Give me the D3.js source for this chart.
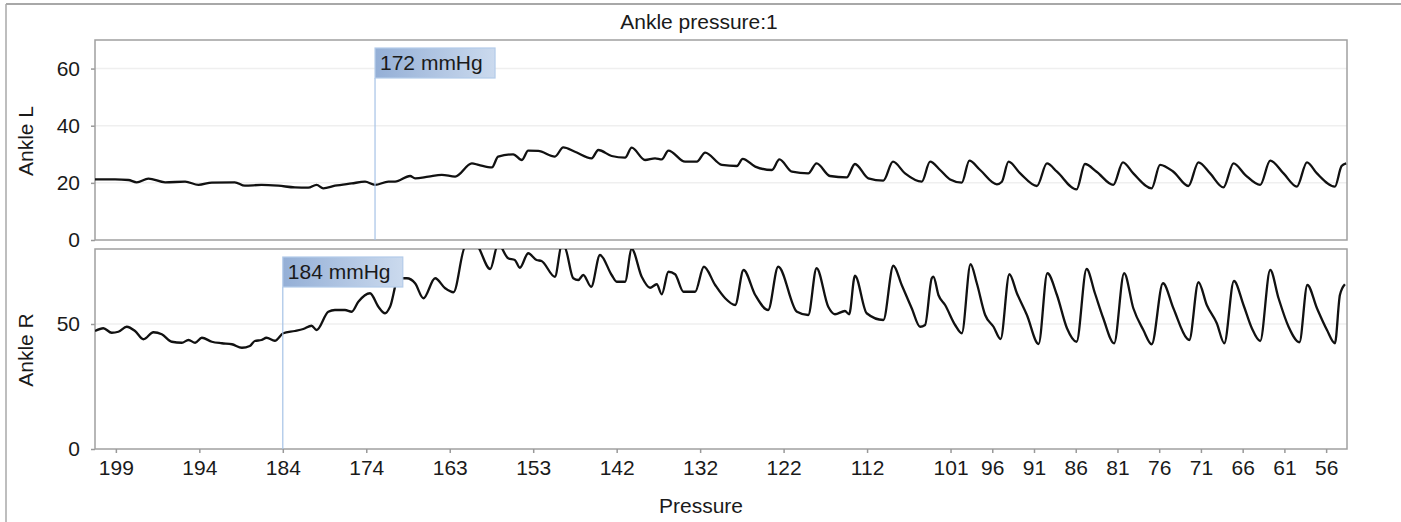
<!DOCTYPE html>
<html>
<head>
<meta charset="utf-8">
<script src="https://cdn.jsdelivr.net/npm/d3@7"></script>
<style>
  html, body { margin: 0; padding: 0; background: #fff; }
  svg { display: block; font-family: "Liberation Sans", Arial, sans-serif; }
</style>
</head>
<body>
<div id="chart"></div>
<script>
// cuff pressure shown under the time ticks (s)
const pressureLabels = [199, 194, 184, 174, 163, 153, 142, 132, 122, 112, 101, 96, 91, 86, 81, 76, 71, 66, 61, 56];
const tickTimes = [0.5, 2.5, 4.5, 6.5, 8.5, 10.5, 12.5, 14.5, 16.5, 18.5, 20.5, 21.5, 22.5, 23.5, 24.5, 25.5, 26.5, 27.5, 28.5, 29.5];
const yTicksL = [0, 20, 40, 60];
const yTicksR = [0, 50];

// [time s, mmHg]
const ankleL = [
  [0.00, 21.2], [0.48, 21.2], [0.80, 21.0], [1.00, 20.2], [1.28, 21.5], [1.68, 20.2], [2.16, 20.4],
  [2.48, 19.3], [2.80, 20.1], [3.35, 20.2], [3.59, 19.0], [3.99, 19.3], [4.39, 19.0], [4.79, 18.4],
  [5.11, 18.3], [5.31, 19.3], [5.47, 18.1], [5.75, 19.0], [6.15, 19.8], [6.47, 20.4], [6.71, 19.3],
  [7.03, 20.4], [7.19, 20.4], [7.55, 22.4], [7.67, 21.6], [7.99, 22.2], [8.31, 22.8], [8.63, 22.2],
  [9.03, 26.8], [9.19, 26.3], [9.51, 25.4], [9.66, 29.2], [10.02, 30.0], [10.23, 28.0], [10.38, 31.3],
  [10.62, 31.2], [11.02, 29.2], [11.22, 32.4], [11.50, 30.9], [11.90, 28.6], [12.06, 31.5], [12.38, 29.4],
  [12.70, 28.8], [12.86, 32.3], [13.18, 28.0], [13.42, 28.6], [13.58, 28.2], [13.74, 31.3], [14.14, 27.4],
  [14.42, 27.4], [14.62, 30.6], [15.02, 26.3], [15.38, 25.9], [15.52, 28.4], [15.82, 25.7], [16.22, 24.5],
  [16.40, 28.2], [16.70, 23.9], [17.09, 23.3], [17.29, 26.8], [17.61, 22.4], [18.01, 21.9], [18.21, 26.6],
  [18.53, 21.6], [18.89, 20.8], [19.12, 27.4], [19.41, 23.3], [19.81, 20.4], [20.01, 27.4], [20.25, 24.5],
  [20.49, 21.2], [20.77, 20.1], [20.95, 27.8], [21.21, 24.5], [21.61, 19.5], [21.73, 20.4], [21.89, 27.4],
  [22.17, 23.3], [22.57, 18.9], [22.81, 26.8], [23.05, 23.9], [23.52, 17.7], [23.72, 26.6], [24.00, 23.9],
  [24.40, 19.3], [24.63, 27.2], [24.88, 23.3], [25.32, 18.1], [25.52, 26.3], [25.84, 23.9], [26.20, 18.9],
  [26.44, 27.2], [26.72, 23.3], [27.04, 18.4], [27.28, 26.8], [27.56, 22.8], [27.92, 19.3], [28.16, 27.8],
  [28.48, 23.3], [28.80, 18.7], [29.04, 27.2], [29.28, 23.3], [29.71, 18.7], [29.87, 25.9], [29.98, 26.8]
];

const ankleR = [
  [0.00, 47.2], [0.20, 48.3], [0.40, 46.5], [0.56, 46.9], [0.76, 48.9], [0.96, 47.2], [1.16, 43.9],
  [1.40, 46.7], [1.60, 45.9], [1.84, 42.9], [2.08, 42.5], [2.24, 43.6], [2.40, 42.5], [2.56, 44.5],
  [2.80, 42.9], [3.04, 42.3], [3.28, 41.9], [3.52, 40.5], [3.71, 41.2], [3.83, 43.2], [3.99, 43.6],
  [4.11, 44.5], [4.31, 43.3], [4.51, 46.3], [4.79, 47.2], [4.99, 48.0], [5.19, 49.3], [5.31, 47.6],
  [5.59, 54.9], [5.75, 55.6], [5.99, 55.6], [6.15, 54.9], [6.31, 58.9], [6.59, 62.3], [6.79, 56.9],
  [6.95, 54.3], [7.07, 56.9], [7.27, 68.3], [7.47, 68.3], [7.67, 66.3], [7.87, 60.3], [8.15, 68.3],
  [8.39, 64.3], [8.59, 62.7], [8.87, 81.0], [9.11, 82.0], [9.47, 72.0], [9.66, 82.0], [9.90, 76.3],
  [10.06, 75.6], [10.18, 72.5], [10.38, 78.3], [10.58, 75.6], [10.70, 75.2], [11.02, 68.9], [11.18, 81.0],
  [11.26, 80.5], [11.46, 68.3], [11.58, 67.6], [11.70, 69.6], [11.89, 64.9], [12.10, 77.6], [12.38, 69.6],
  [12.50, 66.9], [12.70, 66.9], [12.86, 80.0], [13.10, 68.9], [13.30, 64.5], [13.46, 65.9], [13.58, 61.9],
  [13.74, 70.9], [13.90, 69.9], [14.10, 62.9], [14.38, 62.9], [14.59, 72.9], [14.86, 65.6], [15.10, 60.3],
  [15.34, 57.6], [15.54, 71.6], [15.82, 61.6], [16.13, 55.6], [16.37, 72.9], [16.82, 54.9], [17.09, 53.6],
  [17.29, 72.3], [17.57, 56.9], [17.73, 53.9], [17.97, 55.2], [18.07, 53.9], [18.21, 69.3], [18.49, 54.3],
  [18.89, 51.6], [19.13, 73.3], [19.33, 65.6], [19.57, 56.3], [19.77, 48.9], [19.89, 49.6], [20.05, 68.3],
  [20.09, 68.9], [20.21, 61.6], [20.37, 57.6], [20.61, 49.6], [20.77, 46.3], [20.98, 73.9], [21.13, 66.3],
  [21.33, 53.6], [21.53, 48.9], [21.70, 44.0], [21.91, 69.9], [22.09, 62.3], [22.33, 53.6], [22.61, 42.0],
  [22.82, 70.3], [23.05, 61.6], [23.29, 48.3], [23.52, 42.9], [23.76, 72.0], [23.96, 62.3], [24.16, 52.3],
  [24.42, 42.3], [24.66, 70.3], [24.88, 56.3], [25.12, 47.6], [25.32, 41.9], [25.59, 66.3], [25.84, 56.3],
  [26.16, 44.3], [26.22, 43.6], [26.44, 66.7], [26.64, 57.6], [26.88, 50.3], [27.06, 42.3], [27.29, 67.2],
  [27.52, 57.6], [27.72, 48.3], [27.92, 43.2], [28.16, 71.6], [28.36, 60.3], [28.60, 48.9], [28.86, 42.7],
  [29.05, 65.6], [29.28, 56.3], [29.52, 47.6], [29.71, 42.3], [29.83, 61.6], [29.95, 65.9]
];

// detected systolic points: time (s) and label
const markerTimes = [6.71, 4.5];
const markerLabels = ["172 mmHg", "184 mmHg"];

const width = 1401;
const height = 522;
const left = 95, right = 1347;
const fontSize = 21;

const svg = d3.select("#chart")
  .append("svg")
  .attr("width", width)
  .attr("height", height);

// outer frame (only top and left visible)
svg.append("line").attr("x1", 6).attr("x2", width).attr("y1", 4).attr("y2", 4)
  .attr("stroke", "#a8a8a8").attr("stroke-width", 2);
svg.append("line").attr("x1", 6).attr("x2", 6).attr("y1", 4).attr("y2", height)
  .attr("stroke", "#a8a8a8").attr("stroke-width", 1.5);

svg.append("text")
  .attr("x", 699).attr("y", 29)
  .attr("text-anchor", "middle")
  .attr("font-size", fontSize)
  .attr("fill", "#1a1a1a")
  .text("Ankle pressure:1");

const x = d3.scaleLinear().domain([0, 30]).range([left, right]);

const panels = [
  {name: "Ankle L", top: 40, bottom: 240, max: 70, ticks: yTicksL, data: ankleL},
  {name: "Ankle R", top: 249, bottom: 449, max: 80, ticks: yTicksR, data: ankleR}
];

const defs = svg.append("defs");
const grad = defs.append("linearGradient").attr("id", "boxGrad")
  .attr("x1", "0%").attr("x2", "100%").attr("y1", "0%").attr("y2", "0%");
grad.append("stop").attr("offset", "0%").attr("stop-color", "#94afd6");
grad.append("stop").attr("offset", "100%").attr("stop-color", "#cbdaee");

panels.forEach((p, i) => {
  const y = d3.scaleLinear().domain([0, p.max]).range([p.bottom, p.top]);

  defs.append("clipPath").attr("id", `clip${i}`)
    .append("rect")
    .attr("x", left).attr("y", p.top)
    .attr("width", right - left).attr("height", p.bottom - p.top);

  // faint gridlines
  svg.append("g")
    .selectAll("line")
    .data(p.ticks.filter(d => d > 0))
    .join("line")
    .attr("x1", left).attr("x2", right)
    .attr("y1", d => y(d)).attr("y2", d => y(d))
    .attr("stroke", "#efefef").attr("stroke-width", 1.5);

  // y axis
  const yAxis = svg.append("g")
    .attr("transform", `translate(${left},0)`)
    .call(d3.axisLeft(y).tickValues(p.ticks).tickSize(4).tickPadding(11));
  yAxis.select(".domain").remove();
  yAxis.selectAll(".tick line").attr("stroke", "#999").attr("stroke-width", 1.5);
  yAxis.selectAll(".tick text")
    .attr("font-size", fontSize)
    .attr("font-family", "Liberation Sans, Arial, sans-serif")
    .attr("fill", "#1a1a1a");

  // panel frame
  svg.append("rect")
    .attr("x", left).attr("y", p.top)
    .attr("width", right - left).attr("height", p.bottom - p.top)
    .attr("fill", "none")
    .attr("stroke", "#a0a0a0")
    .attr("stroke-width", 1.5);

  svg.append("text")
    .attr("transform", `translate(33,${(p.top + p.bottom) / 2 + 1}) rotate(-90)`)
    .attr("text-anchor", "middle")
    .attr("font-size", fontSize)
    .attr("fill", "#1a1a1a")
    .text(p.name);

  const line = d3.line()
    .x(d => x(d[0]))
    .y(d => y(d[1]))
    .curve(d3.curveMonotoneX);

  svg.append("path")
    .datum(p.data)
    .attr("clip-path", `url(#clip${i})`)
    .attr("d", line)
    .attr("fill", "none")
    .attr("stroke", "#111")
    .attr("stroke-width", 2.3)
    .attr("stroke-linejoin", "round");

  // marker line + label box
  const mx = x(markerTimes[i]);
  const boxTop = p.top + 8;
  const boxH = 30;
  svg.append("line")
    .attr("x1", mx).attr("x2", mx)
    .attr("y1", boxTop + boxH).attr("y2", p.bottom)
    .attr("stroke", "#a6c2e6").attr("stroke-width", 1.2);
  svg.append("rect")
    .attr("x", mx).attr("y", boxTop)
    .attr("width", 120).attr("height", boxH)
    .attr("fill", "url(#boxGrad)")
    .attr("stroke", "#b3cbe9").attr("stroke-width", 1.2);
  svg.append("text")
    .attr("x", mx + 5).attr("y", boxTop + 22)
    .attr("font-size", fontSize)
    .attr("fill", "#1a1a1a")
    .text(markerLabels[i]);
});

// x axis under the lower panel
const xAxis = svg.append("g")
  .attr("transform", `translate(0,${panels[1].bottom})`)
  .call(d3.axisBottom(x)
    .tickValues(tickTimes)
    .tickFormat((d, i) => pressureLabels[i])
    .tickSize(4)
    .tickPadding(7));
xAxis.select(".domain").remove();
xAxis.selectAll(".tick line").attr("stroke", "#999").attr("stroke-width", 1.5);
xAxis.selectAll(".tick text")
  .attr("font-size", fontSize)
  .attr("font-family", "Liberation Sans, Arial, sans-serif")
  .attr("fill", "#1a1a1a");

svg.append("text")
  .attr("x", 701).attr("y", 513)
  .attr("text-anchor", "middle")
  .attr("font-size", fontSize)
  .attr("fill", "#1a1a1a")
  .text("Pressure");
</script>
</body>
</html>
